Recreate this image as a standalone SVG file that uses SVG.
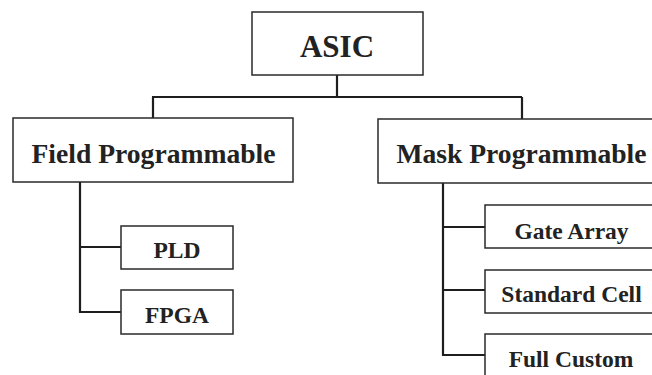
<svg xmlns="http://www.w3.org/2000/svg" width="652" height="375" viewBox="0 0 652 375">
<style>
.box{fill:#fff;stroke:#2a2a2a;stroke-width:1.5}
.t{font-family:"Liberation Serif",serif;font-weight:bold;fill:#222;text-anchor:middle}
.c{fill:none;stroke:#1e1e1e;stroke-width:2.2}
</style>
<rect width="652" height="375" fill="#fff"/>
<g id="connectors">
<path class="c" d="M337 75V97M152 97H522M153 97V118M522 97V119"/>
<path class="c" d="M80 182V312H121M80 247H121"/>
<path class="c" d="M443 183V355H485M443 227H485M443 290H485"/>
</g>
<g id="asic"><rect class="box" x="252" y="12" width="171" height="63"/><text class="t" x="337" y="57" font-size="31">ASIC</text></g>
<g id="field"><rect class="box" x="13" y="118" width="280" height="64"/><text class="t" x="153.5" y="163" font-size="27.6">Field Programmable</text></g>
<g id="mask"><rect class="box" x="378" y="119" width="290" height="64"/><text class="t" x="521.5" y="163" font-size="27.6">Mask Programmable</text></g>
<g id="pld"><rect class="box" x="121" y="226" width="112" height="43"/><text class="t" x="177" y="258" font-size="23.5">PLD</text></g>
<g id="fpga"><rect class="box" x="121" y="290" width="112" height="44"/><text class="t" x="177" y="323" font-size="23.5">FPGA</text></g>
<g id="gate"><rect class="box" x="485" y="205" width="180" height="43"/><text class="t" x="571.5" y="239" font-size="23.5">Gate Array</text></g>
<g id="std"><rect class="box" x="485" y="270" width="180" height="43"/><text class="t" x="571.5" y="302" font-size="23.5">Standard Cell</text></g>
<g id="full"><rect class="box" x="485" y="334" width="180" height="60"/><text class="t" x="571" y="367" font-size="23.5">Full Custom</text></g>
</svg>
